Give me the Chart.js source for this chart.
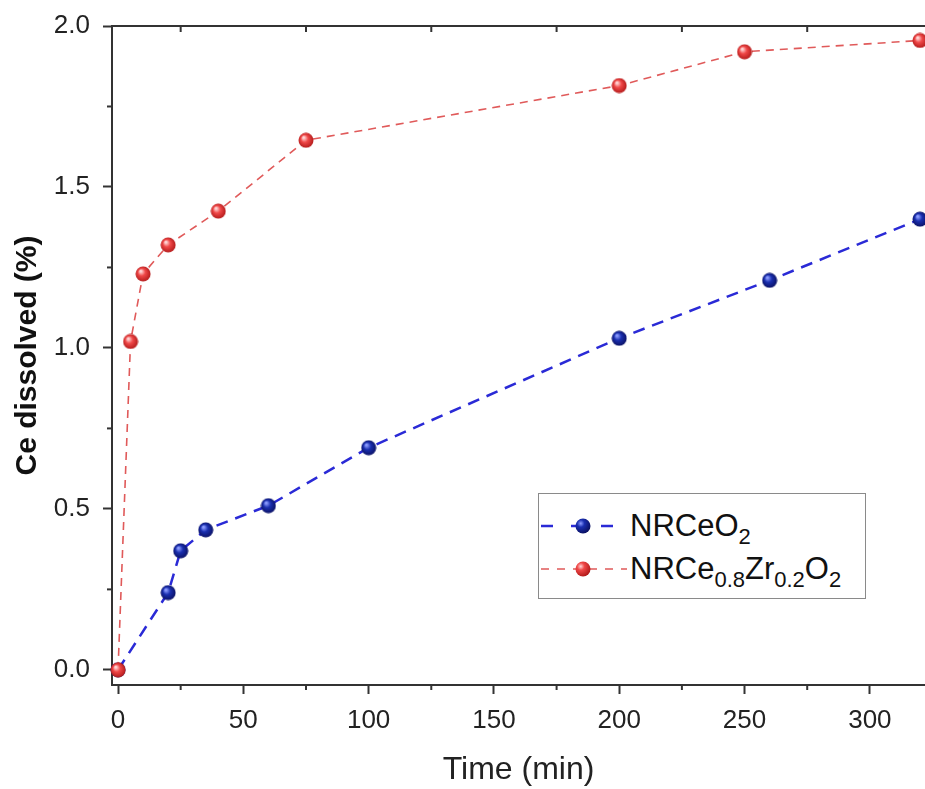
<!DOCTYPE html>
<html><head><meta charset="utf-8">
<script src="https://cdn.jsdelivr.net/npm/chart.js@4"></script>
<style>
html,body{margin:0;padding:0;background:#fff;}
#wrap{position:relative;width:925px;height:789px;overflow:hidden;}
#legend{position:absolute;left:538px;top:493px;width:328px;height:106px;border:1.5px solid #8a8a8a;box-sizing:border-box;background:#fff;font-family:"Liberation Sans",Arial,sans-serif;color:#111;}
.row{position:absolute;left:0;height:40px;width:100%;}
.row svg{position:absolute;left:0;top:0;}
.row .txt{position:absolute;left:91px;top:0;font-size:31px;line-height:40px;white-space:nowrap;}
.sub{font-size:22px;position:relative;top:8px;}
</style></head>
<body>
<div id="wrap">
<canvas id="c" width="925" height="789"></canvas>
<div id="legend">
  <div class="row" style="top:12px">
    <svg width="90" height="40"><defs><radialGradient id="gb" cx="0.35" cy="0.33" r="0.7"><stop offset="0" stop-color="#8c9cff"/><stop offset="0.35" stop-color="#1a2fb0"/><stop offset="1" stop-color="#0a1060"/></radialGradient></defs>
      <line x1="2" y1="20" x2="88" y2="20" stroke="#2a2ad6" stroke-width="2.5" stroke-dasharray="12,18"/>
      <circle cx="44" cy="20" r="7.5" fill="url(#gb)"/></svg>
    <div class="txt" id="l1"></div>
  </div>
  <div class="row" style="top:55px">
    <svg width="90" height="40"><defs><radialGradient id="gr" cx="0.35" cy="0.33" r="0.7"><stop offset="0" stop-color="#ffd6d6"/><stop offset="0.35" stop-color="#f04848"/><stop offset="1" stop-color="#b01818"/></radialGradient></defs>
      <line x1="2" y1="20" x2="88" y2="20" stroke="#e05a5a" stroke-width="1.6" stroke-dasharray="8,8"/>
      <circle cx="44" cy="20" r="7.5" fill="url(#gr)"/></svg>
    <div class="txt" id="l2"></div>
  </div>
</div>
</div>
<script>
// ---- data ----
const timeBlue = [0, 20, 25, 35, 60, 100, 200, 260, 320];
const ceBlue   = [0, 0.24, 0.37, 0.435, 0.51, 0.69, 1.03, 1.21, 1.40];
const timeRed  = [0, 5, 10, 20, 40, 75, 200, 250, 320];
const ceRed    = [0, 1.02, 1.23, 1.32, 1.425, 1.645, 1.815, 1.92, 1.955];
const xTicks = [0, 50, 100, 150, 200, 250, 300];
const yTicks = [0, 0.5, 1.0, 1.5, 2.0];
const xMinor = [25, 75, 125, 175, 225, 275];
const yMinor = [0.25, 0.75, 1.25, 1.75];
const labelBlue = ['NRCeO', ['2']];
const labelRed = ['NRCe', ['0.8'], 'Zr', ['0.2'], 'O', ['2']];
const xTitle = 'Time (min)';
const yTitle = 'Ce dissolved (%)';

function renderLabel(el, parts){
  parts.forEach(p=>{
    const s=document.createElement('span');
    if(Array.isArray(p)){s.className='sub';s.textContent=p[0];} else s.textContent=p;
    el.appendChild(s);
  });
}
renderLabel(document.getElementById('l1'), labelBlue);
renderLabel(document.getElementById('l2'), labelRed);

function sphere(light, base, dark, r){
  const c=document.createElement('canvas'); c.width=c.height=2*r;
  const g=c.getContext('2d');
  const grad=g.createRadialGradient(r*0.7, r*0.65, r*0.1, r, r, r);
  grad.addColorStop(0, light); grad.addColorStop(0.4, base); grad.addColorStop(1, dark);
  g.fillStyle=grad; g.beginPath(); g.arc(r,r,r-0.5,0,Math.PI*2); g.fill();
  return c;
}
const blueBall = sphere('#8c9cff','#1a2fb0','#0a1060',8);
const redBall = sphere('#ffd6d6','#f04848','#b01818',8);

const frame = {
  id:'frame',
  afterDraw(chart){
    const ctx=chart.ctx, xs=chart.scales.x, ys=chart.scales.y, a=chart.chartArea;
    ctx.save(); ctx.strokeStyle='#333'; ctx.lineWidth=2;
    ctx.beginPath(); ctx.moveTo(a.left-1, a.top); ctx.lineTo(a.right, a.top); ctx.stroke();
    xMinor.forEach(v=>{const p=xs.getPixelForValue(v);
      ctx.beginPath(); ctx.moveTo(p,a.bottom); ctx.lineTo(p,a.bottom+5); ctx.stroke();
      ctx.beginPath(); ctx.moveTo(p,a.top); ctx.lineTo(p,a.top+6); ctx.stroke();});
    yMinor.forEach(v=>{const p=ys.getPixelForValue(v);
      ctx.beginPath(); ctx.moveTo(a.left,p); ctx.lineTo(a.left-5,p); ctx.stroke();});
    ctx.restore();
  }
};

const font = '"Liberation Sans", Arial, sans-serif';
new Chart(document.getElementById('c'), {
  type:'line',
  data:{datasets:[
    {label:'NRCe0.8Zr0.2O2', data: timeRed.map((t,i)=>({x:t,y:ceRed[i]})),
     borderColor:'#e05a5a', borderWidth:1.6, borderDash:[8,6], pointStyle:redBall, tension:0, fill:false},
    {label:'NRCeO2', data: timeBlue.map((t,i)=>({x:t,y:ceBlue[i]})),
     borderColor:'#2a2ad6', borderWidth:2.5, borderDash:[12,8], pointStyle:blueBall, tension:0, fill:false}
  ]},
  options:{
    responsive:false, animation:false, clip:false,
    layout:{autoPadding:false, padding:{top:26,right:0,left:0,bottom:0}},
    plugins:{legend:{display:false}, tooltip:{enabled:false}},
    scales:{
      x:{type:'linear', min:-2.4, max:322,
         afterBuildTicks:s=>{s.ticks=xTicks.map(v=>({value:v}));},
         afterFit:s=>{s.height=104; s.paddingLeft=0; s.paddingRight=0;},
         grid:{drawOnChartArea:false, drawTicks:true, tickLength:9, tickColor:'#333', tickWidth:2},
         border:{display:true,color:'#333',width:2},
         ticks:{font:{family:font,size:26}, color:'#222', padding:11, maxRotation:0},
         title:{display:true, text:xTitle, font:{family:font,size:32}, color:'#222', padding:{top:0,bottom:0}}},
      y:{type:'linear', min:-0.047, max:2.0,
         afterBuildTicks:s=>{s.ticks=yTicks.map(v=>({value:v}));},
         afterFit:s=>{s.width=112; s.paddingTop=0; s.paddingBottom=0;},
         grid:{drawOnChartArea:false, drawTicks:true, tickLength:9, tickColor:'#333', tickWidth:2},
         border:{display:true,color:'#333',width:2},
         ticks:{font:{family:font,size:26}, color:'#222', padding:13, callback:v=>v.toFixed(1)},
         title:{display:true, text:yTitle, font:{family:font,size:30,weight:'bold'}, color:'#111', padding:{top:10,bottom:0}}}
    }
  },
  plugins:[frame]
});
</script>
</body></html>
